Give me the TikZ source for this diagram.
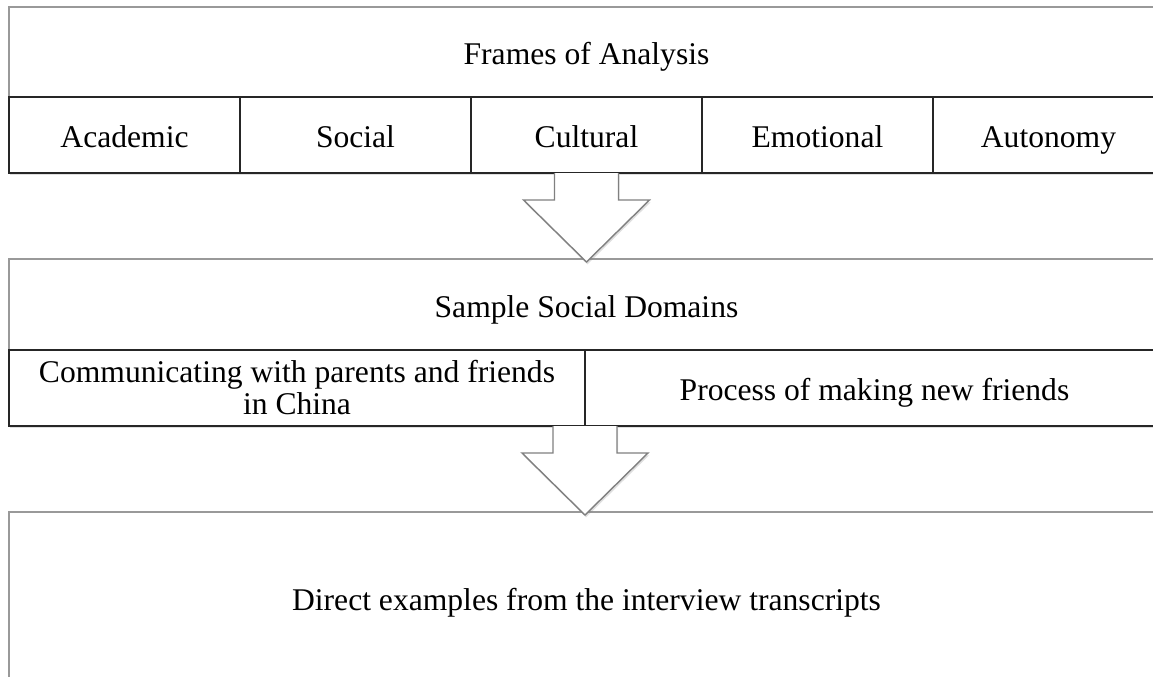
\documentclass[tikz,border=0pt]{standalone}
\usepackage{fontspec}
\setmainfont{Liberation Serif}
\usetikzlibrary{positioning,shadows}

\begin{document}
\begin{tikzpicture}[
	font=\fontsize{15.8}{16}\selectfont,
	every node/.style={outer sep=0pt,inner sep=2pt,align=center,text height=12.6pt,text depth=0pt},
	boxshadow/.style={drop shadow={opacity=0.25,shadow xshift=0.5pt,shadow yshift=-1.2pt}},
	framebox/.style={draw=black!40,line width=0.8pt,fill=white,minimum width=577.5pt,boxshadow},
	cellbox/.style={draw=black!85,line width=0.8pt,fill=white,minimum height=38pt,boxshadow},
	bigarrow/.style={draw=black!50,fill=white,line width=0.7pt,line join=miter,boxshadow}]
	\useasboundingbox (0,0) rectangle (576.5pt,-338pt);
	\clip (0,0) rectangle (576.5pt,-338pt);
	% Frames of analysis
	\node[framebox,minimum height=45pt] (frames) at (293.25pt,-26pt) {Frames of Analysis};
	\node[cellbox,minimum width=115.5pt,anchor=north west] (academic) at (frames.south west) {Academic};
	\node[cellbox,minimum width=115.5pt,right=0pt of academic] (social) {Social};
	\node[cellbox,minimum width=115.5pt,right=0pt of social] (cultural) {Cultural};
	\node[cellbox,minimum width=115.5pt,right=0pt of cultural] (emotional) {Emotional};
	\node[cellbox,minimum width=115.5pt,right=0pt of emotional] (autonomy) {Autonomy};
	% Sample social domains
	\node[framebox,minimum height=45.5pt,below=43pt of cultural] (domains) {Sample Social Domains};
	\node[cellbox,minimum width=288pt,anchor=north west,text height=,text depth=] (communicating) at (domains.south west)
		{Communicating with parents and friends\\in China};
	\node[cellbox,minimum width=289.5pt,right=0pt of communicating] (newfriends) {Process of making new friends};
	% Examples
	\node[framebox,minimum height=86pt,anchor=north west] (examples) at ([yshift=-43pt]communicating.south west)
		{Direct examples from the interview transcripts};
	% Arrows
	\draw[bigarrow] ([xshift=-16pt]cultural.south) -- ++(0,-13.5pt) -- ++(-15.5pt,0) -- ++(31.5pt,-31pt)
		-- ++(31.5pt,31pt) -- ++(-15.5pt,0) -- ++(0,13.5pt);
	\draw[bigarrow] ([xshift=-16pt]communicating.south east) -- ++(0,-13.5pt) -- ++(-15.5pt,0) -- ++(31.5pt,-31pt)
		-- ++(31.5pt,31pt) -- ++(-15.5pt,0) -- ++(0,13.5pt);
\end{tikzpicture}
\end{document}
